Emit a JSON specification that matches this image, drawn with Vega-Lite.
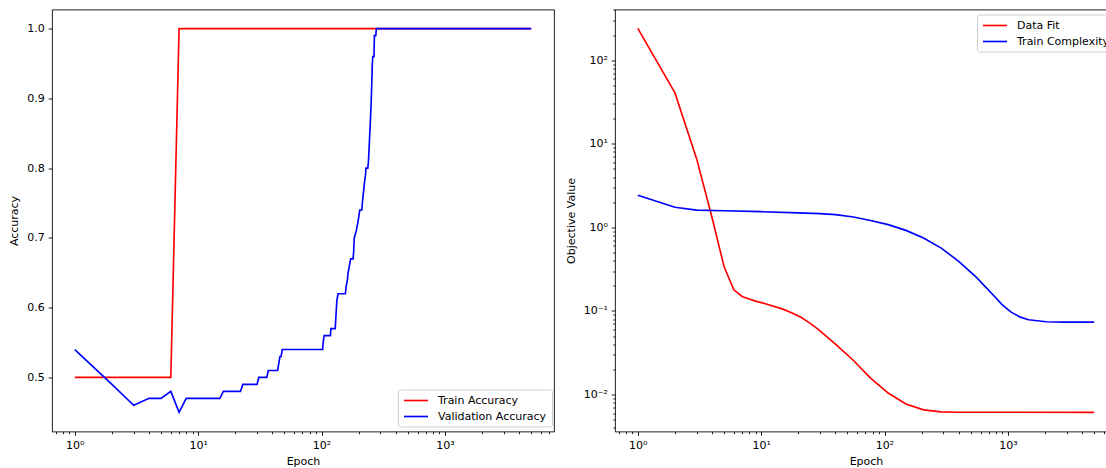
{
  "$schema": "https://vega.github.io/schema/vega-lite/v6.json",
  "padding": {"left": 8, "top": 2.5, "right": 0, "bottom": 0},
  "spacing": 9,
  "background": "white",
  "config": {
    "view": {"stroke": "black", "strokeWidth": 0.88},
    "axis": {
      "labelFont": "DejaVu Sans", "labelFontSize": 11, "labelColor": "black",
      "titleFont": "DejaVu Sans", "titleFontSize": 11, "titleFontWeight": "normal", "titleColor": "black",
      "tickColor": "black", "tickWidth": 0.88, "domain": false, "grid": false,
      "labelPadding": 3.8, "titlePadding": 7, "labelOverlap": false, "labelBound": false, "labelFlush": false
    },
    "legend": {
      "orient": "none", "labelFont": "DejaVu Sans", "labelFontSize": 11, "labelColor": "black",
      "strokeColor": "#d0d0d0", "fillColor": "white", "padding": 5, "cornerRadius": 2,
      "symbolType": "M-1,0H3.8", "symbolSize": 100, "symbolStrokeWidth": 1.65, "labelOffset": 23, "rowPadding": 5
    }
  },
  "datasets": {
    "acc": [
      {"epoch": 1, "value": 0.5, "series": "Train Accuracy"},
      {"epoch": 6, "value": 0.5, "series": "Train Accuracy"},
      {"epoch": 7, "value": 1.0, "series": "Train Accuracy"},
      {"epoch": 5000, "value": 1.0, "series": "Train Accuracy"},
      {"epoch": 1, "value": 0.54, "series": "Validation Accuracy"},
      {"epoch": 2, "value": 0.49, "series": "Validation Accuracy"},
      {"epoch": 3, "value": 0.46, "series": "Validation Accuracy"},
      {"epoch": 4, "value": 0.47, "series": "Validation Accuracy"},
      {"epoch": 5, "value": 0.47, "series": "Validation Accuracy"},
      {"epoch": 6, "value": 0.48, "series": "Validation Accuracy"},
      {"epoch": 7, "value": 0.45, "series": "Validation Accuracy"},
      {"epoch": 8, "value": 0.47, "series": "Validation Accuracy"},
      {"epoch": 15, "value": 0.47, "series": "Validation Accuracy"},
      {"epoch": 16, "value": 0.48, "series": "Validation Accuracy"},
      {"epoch": 22, "value": 0.48, "series": "Validation Accuracy"},
      {"epoch": 23, "value": 0.49, "series": "Validation Accuracy"},
      {"epoch": 30, "value": 0.49, "series": "Validation Accuracy"},
      {"epoch": 31, "value": 0.50, "series": "Validation Accuracy"},
      {"epoch": 36, "value": 0.50, "series": "Validation Accuracy"},
      {"epoch": 37, "value": 0.51, "series": "Validation Accuracy"},
      {"epoch": 44, "value": 0.51, "series": "Validation Accuracy"},
      {"epoch": 45, "value": 0.52, "series": "Validation Accuracy"},
      {"epoch": 46, "value": 0.53, "series": "Validation Accuracy"},
      {"epoch": 47, "value": 0.53, "series": "Validation Accuracy"},
      {"epoch": 48, "value": 0.54, "series": "Validation Accuracy"},
      {"epoch": 102, "value": 0.54, "series": "Validation Accuracy"},
      {"epoch": 103, "value": 0.55, "series": "Validation Accuracy"},
      {"epoch": 105, "value": 0.56, "series": "Validation Accuracy"},
      {"epoch": 118, "value": 0.56, "series": "Validation Accuracy"},
      {"epoch": 119, "value": 0.57, "series": "Validation Accuracy"},
      {"epoch": 129, "value": 0.57, "series": "Validation Accuracy"},
      {"epoch": 130, "value": 0.58, "series": "Validation Accuracy"},
      {"epoch": 133, "value": 0.61, "series": "Validation Accuracy"},
      {"epoch": 136, "value": 0.62, "series": "Validation Accuracy"},
      {"epoch": 156, "value": 0.62, "series": "Validation Accuracy"},
      {"epoch": 158, "value": 0.63, "series": "Validation Accuracy"},
      {"epoch": 162, "value": 0.64, "series": "Validation Accuracy"},
      {"epoch": 164, "value": 0.65, "series": "Validation Accuracy"},
      {"epoch": 168, "value": 0.66, "series": "Validation Accuracy"},
      {"epoch": 172, "value": 0.67, "series": "Validation Accuracy"},
      {"epoch": 180, "value": 0.67, "series": "Validation Accuracy"},
      {"epoch": 182, "value": 0.68, "series": "Validation Accuracy"},
      {"epoch": 184, "value": 0.70, "series": "Validation Accuracy"},
      {"epoch": 191, "value": 0.71, "series": "Validation Accuracy"},
      {"epoch": 196, "value": 0.72, "series": "Validation Accuracy"},
      {"epoch": 200, "value": 0.73, "series": "Validation Accuracy"},
      {"epoch": 204, "value": 0.74, "series": "Validation Accuracy"},
      {"epoch": 212, "value": 0.74, "series": "Validation Accuracy"},
      {"epoch": 214, "value": 0.75, "series": "Validation Accuracy"},
      {"epoch": 217, "value": 0.76, "series": "Validation Accuracy"},
      {"epoch": 220, "value": 0.77, "series": "Validation Accuracy"},
      {"epoch": 223, "value": 0.78, "series": "Validation Accuracy"},
      {"epoch": 227, "value": 0.79, "series": "Validation Accuracy"},
      {"epoch": 229, "value": 0.80, "series": "Validation Accuracy"},
      {"epoch": 237, "value": 0.80, "series": "Validation Accuracy"},
      {"epoch": 240, "value": 0.81, "series": "Validation Accuracy"},
      {"epoch": 243, "value": 0.83, "series": "Validation Accuracy"},
      {"epoch": 246, "value": 0.85, "series": "Validation Accuracy"},
      {"epoch": 249, "value": 0.87, "series": "Validation Accuracy"},
      {"epoch": 252, "value": 0.89, "series": "Validation Accuracy"},
      {"epoch": 255, "value": 0.92, "series": "Validation Accuracy"},
      {"epoch": 258, "value": 0.95, "series": "Validation Accuracy"},
      {"epoch": 260, "value": 0.96, "series": "Validation Accuracy"},
      {"epoch": 266, "value": 0.96, "series": "Validation Accuracy"},
      {"epoch": 268, "value": 0.99, "series": "Validation Accuracy"},
      {"epoch": 275, "value": 0.99, "series": "Validation Accuracy"},
      {"epoch": 278, "value": 1.0, "series": "Validation Accuracy"},
      {"epoch": 5000, "value": 1.0, "series": "Validation Accuracy"}
    ],
    "obj": [
      {"epoch": 1, "value": 241, "series": "Data Fit"},
      {"epoch": 2, "value": 40.6, "series": "Data Fit"},
      {"epoch": 3, "value": 6.6, "series": "Data Fit"},
      {"epoch": 4, "value": 1.3, "series": "Data Fit"},
      {"epoch": 5, "value": 0.34, "series": "Data Fit"},
      {"epoch": 6, "value": 0.179, "series": "Data Fit"},
      {"epoch": 7, "value": 0.149, "series": "Data Fit"},
      {"epoch": 8, "value": 0.139, "series": "Data Fit"},
      {"epoch": 9, "value": 0.131, "series": "Data Fit"},
      {"epoch": 11, "value": 0.121, "series": "Data Fit"},
      {"epoch": 15, "value": 0.105, "series": "Data Fit"},
      {"epoch": 18, "value": 0.094, "series": "Data Fit"},
      {"epoch": 21, "value": 0.084, "series": "Data Fit"},
      {"epoch": 25, "value": 0.071, "series": "Data Fit"},
      {"epoch": 29, "value": 0.060, "series": "Data Fit"},
      {"epoch": 40, "value": 0.040, "series": "Data Fit"},
      {"epoch": 56, "value": 0.0255, "series": "Data Fit"},
      {"epoch": 77, "value": 0.0157, "series": "Data Fit"},
      {"epoch": 107, "value": 0.0104, "series": "Data Fit"},
      {"epoch": 149, "value": 0.0077, "series": "Data Fit"},
      {"epoch": 207, "value": 0.00655, "series": "Data Fit"},
      {"epoch": 288, "value": 0.0062, "series": "Data Fit"},
      {"epoch": 400, "value": 0.00613, "series": "Data Fit"},
      {"epoch": 5000, "value": 0.00612, "series": "Data Fit"},
      {"epoch": 1, "value": 2.42, "series": "Train Complexity"},
      {"epoch": 2, "value": 1.74, "series": "Train Complexity"},
      {"epoch": 3, "value": 1.61, "series": "Train Complexity"},
      {"epoch": 5, "value": 1.58, "series": "Train Complexity"},
      {"epoch": 10, "value": 1.54, "series": "Train Complexity"},
      {"epoch": 20, "value": 1.49, "series": "Train Complexity"},
      {"epoch": 30, "value": 1.46, "series": "Train Complexity"},
      {"epoch": 40, "value": 1.42, "series": "Train Complexity"},
      {"epoch": 56, "value": 1.33, "series": "Train Complexity"},
      {"epoch": 77, "value": 1.21, "series": "Train Complexity"},
      {"epoch": 107, "value": 1.077, "series": "Train Complexity"},
      {"epoch": 149, "value": 0.92, "series": "Train Complexity"},
      {"epoch": 207, "value": 0.745, "series": "Train Complexity"},
      {"epoch": 288, "value": 0.565, "series": "Train Complexity"},
      {"epoch": 399, "value": 0.392, "series": "Train Complexity"},
      {"epoch": 553, "value": 0.254, "series": "Train Complexity"},
      {"epoch": 766, "value": 0.153, "series": "Train Complexity"},
      {"epoch": 900, "value": 0.118, "series": "Train Complexity"},
      {"epoch": 1061, "value": 0.0968, "series": "Train Complexity"},
      {"epoch": 1259, "value": 0.0843, "series": "Train Complexity"},
      {"epoch": 1470, "value": 0.0783, "series": "Train Complexity"},
      {"epoch": 2038, "value": 0.0741, "series": "Train Complexity"},
      {"epoch": 2824, "value": 0.0734, "series": "Train Complexity"},
      {"epoch": 5000, "value": 0.0734, "series": "Train Complexity"}
    ]
  },
  "resolve": {"scale": {"color": "independent"}, "legend": {"color": "independent"}},
  "hconcat": [
    {
      "width": 502, "height": 422,
      "data": {"name": "acc"},
      "mark": {"type": "line", "strokeWidth": 1.65, "clip": true},
      "encoding": {
        "x": {
          "field": "epoch", "type": "quantitative", "title": "Epoch",
          "scale": {"type": "log", "domain": [0.6534, 7655], "nice": false},
          "axis": {
            "values": [0.7, 0.8, 0.9, 1, 2, 3, 4, 5, 6, 7, 8, 9, 10, 20, 30, 40, 50, 60, 70, 80, 90, 100, 200, 300, 400, 500, 600, 700, 800, 900, 1000, 2000, 3000, 4000, 5000, 6000, 7000],
            "labelExpr": "datum.value == 1 ? '10⁰' : datum.value == 10 ? '10¹' : datum.value == 100 ? '10²' : datum.value == 1000 ? '10³' : ''",
            "tickSize": {"condition": {"test": "datum.value == 1 || datum.value == 10 || datum.value == 100 || datum.value == 1000", "value": 3.84}, "value": 2.2},
            "titlePadding": 5
          }
        },
        "y": {
          "field": "value", "type": "quantitative", "title": "Accuracy",
          "scale": {"domain": [0.4225, 1.0275], "nice": false, "zero": false},
          "axis": {"values": [0.5, 0.6, 0.7, 0.8, 0.9, 1.0], "format": ".1f", "tickSize": 3.84}
        },
        "color": {
          "field": "series", "type": "nominal",
          "scale": {"domain": ["Train Accuracy", "Validation Accuracy"], "range": ["#ff0000", "#0000ff"]},
          "legend": {"title": null, "legendX": 346, "legendY": 380}
        }
      }
    },
    {
      "width": 502, "height": 422,
      "data": {"name": "obj"},
      "mark": {"type": "line", "strokeWidth": 1.65, "clip": true},
      "encoding": {
        "x": {
          "field": "epoch", "type": "quantitative", "title": "Epoch",
          "scale": {"type": "log", "domain": [0.6534, 7655], "nice": false},
          "axis": {
            "values": [0.7, 0.8, 0.9, 1, 2, 3, 4, 5, 6, 7, 8, 9, 10, 20, 30, 40, 50, 60, 70, 80, 90, 100, 200, 300, 400, 500, 600, 700, 800, 900, 1000, 2000, 3000, 4000, 5000, 6000, 7000],
            "labelExpr": "datum.value == 1 ? '10⁰' : datum.value == 10 ? '10¹' : datum.value == 100 ? '10²' : datum.value == 1000 ? '10³' : ''",
            "tickSize": {"condition": {"test": "datum.value == 1 || datum.value == 10 || datum.value == 100 || datum.value == 1000", "value": 3.84}, "value": 2.2},
            "titlePadding": 5
          }
        },
        "y": {
          "field": "value", "type": "quantitative", "title": "Objective Value",
          "scale": {"type": "log", "domain": [0.003606, 404.6], "nice": false},
          "axis": {
            "values": [0.004, 0.005, 0.006, 0.007, 0.008, 0.009, 0.01, 0.02, 0.03, 0.04, 0.05, 0.06, 0.07, 0.08, 0.09, 0.1, 0.2, 0.3, 0.4, 0.5, 0.6, 0.7, 0.8, 0.9, 1, 2, 3, 4, 5, 6, 7, 8, 9, 10, 20, 30, 40, 50, 60, 70, 80, 90, 100, 200, 300, 400],
            "labelExpr": "datum.value == 100 ? '10²' : datum.value == 10 ? '10¹' : datum.value == 1 ? '10⁰' : datum.value == 0.1 ? '10⁻¹' : datum.value == 0.01 ? '10⁻²' : ''",
            "tickSize": {"condition": {"test": "datum.value == 0.01 || datum.value == 0.1 || datum.value == 1 || datum.value == 10 || datum.value == 100", "value": 3.84}, "value": 2.2}
          }
        },
        "color": {
          "field": "series", "type": "nominal",
          "scale": {"domain": ["Data Fit", "Train Complexity"], "range": ["#ff0000", "#0000ff"]},
          "legend": {"title": null, "legendX": 362, "legendY": 5}
        }
      }
    }
  ]
}
